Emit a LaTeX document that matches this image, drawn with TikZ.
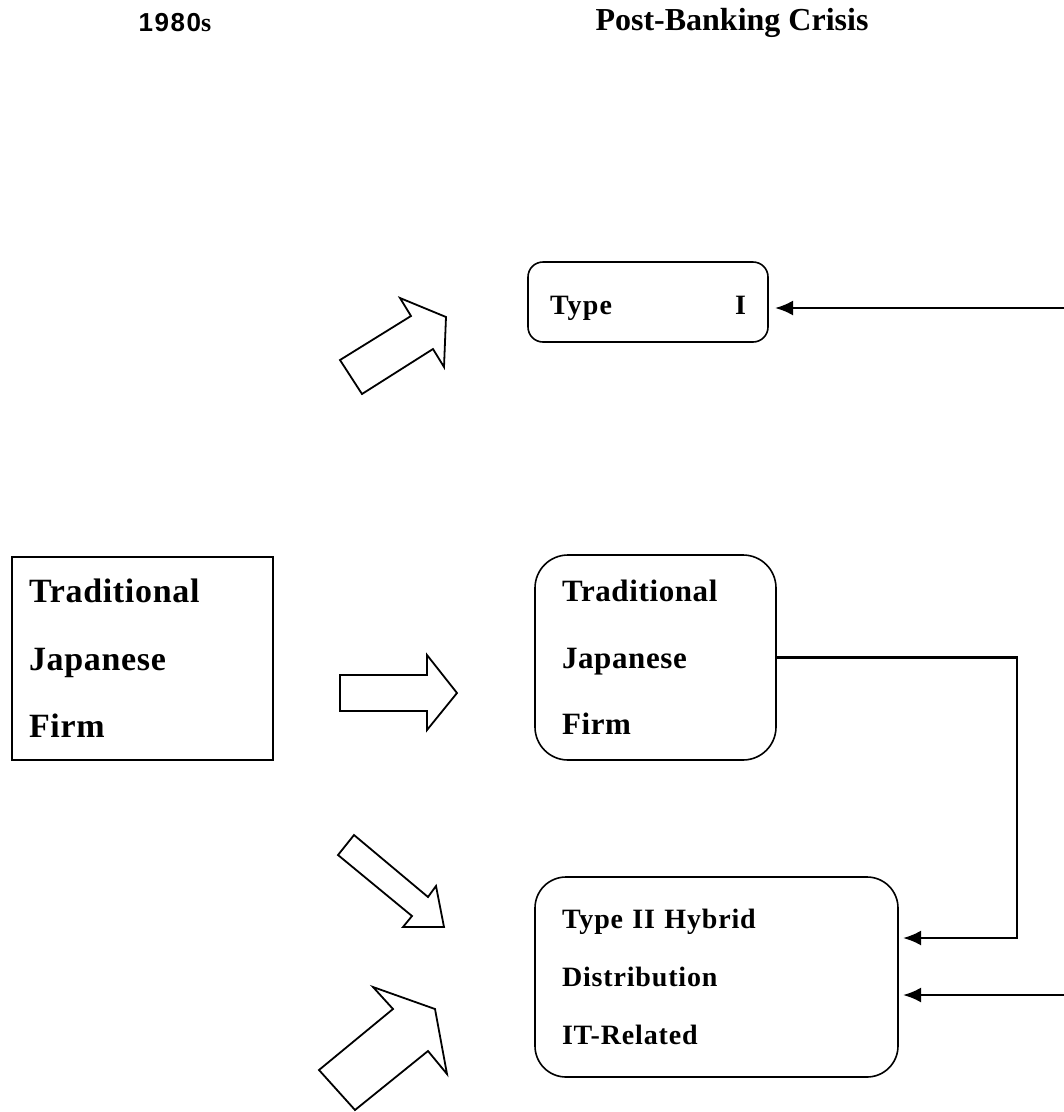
\documentclass[tikz,border=0pt]{standalone}
\usepackage{fontspec}
\setmainfont{Liberation Serif}
\setsansfont{Liberation Sans}
\newfontfamily\boxfont[LetterSpace=2]{Liberation Serif}
\newfontfamily\hybridfont[LetterSpace=3]{Liberation Serif}
\newfontfamily\typefont[LetterSpace=4]{Liberation Serif}
\newfontfamily\headsans[LetterSpace=6]{Liberation Sans}
\newfontfamily\headserif[LetterSpace=6]{Liberation Serif}
\usetikzlibrary{arrows.meta}

\begin{document}
\begin{tikzpicture}[x=1pt,y=-1pt,inner sep=0pt,outer sep=0pt,
>={Latex[length=18pt,width=15pt]},
firmblock/.style={draw,rectangle,line width=2pt,align=left,inner xsep=17pt},
roundblock/.style={draw,rectangle,line width=1.6pt,align=left,inner xsep=27pt},
blockarrow/.style={draw,line width=1.8pt,fill=white,line join=miter},
link/.style={line width=2.6pt}]

\useasboundingbox (0,0) rectangle (1064,1112);

%%% Headings %%%%%
\draw (175,23) node[font=\fontsize{26}{28}\selectfont\bfseries] (era80) {{\headsans 1980}{\headserif s}};
\draw (732,23) node[font=\fontsize{32}{34}\selectfont\bfseries] (postcrisis) {Post-Banking Crisis};

%%% 1980s firm %%%%%
\draw (142.5,658.5) node[firmblock,minimum width=261pt,minimum height=203pt,text width=227pt,
	font=\boxfont\fontsize{34}{67.5}\selectfont\bfseries] (oldfirm) {Traditional\\Japanese\\Firm};

%%% Post-crisis types %%%%%
\draw (648,302) node[roundblock,rounded corners=15pt,minimum width=240pt,minimum height=80pt,
	inner xsep=22pt,text width=196pt,text height=24pt,text depth=0pt,
	font=\typefont\fontsize{28}{30}\selectfont\bfseries] (typeI) {Type\hfill I};
\draw (655.5,657.5) node[roundblock,rounded corners=33pt,minimum width=241pt,minimum height=205pt,text width=187pt,
	font=\boxfont\fontsize{31}{66.5}\selectfont\bfseries] (newfirm) {Traditional\\Japanese\\Firm};
\draw (716.5,977) node[roundblock,rounded corners=31pt,minimum width=363pt,minimum height=200pt,text width=309pt,
	font=\hybridfont\fontsize{28}{58}\selectfont\bfseries] (hybrid) {Type II Hybrid\\Distribution\\IT-Related};

%%% Block arrows
	\draw[blockarrow] (362,394) -- (340,360) -- (411,316) -- (400,298) -- (446,317) -- (444,367) -- (433,349) -- cycle;
	\draw[blockarrow] (340,675) -- (427,675) -- (427,655) -- (457,693) -- (427,730) -- (427,711) -- (340,711) -- cycle;
	\draw[blockarrow] (338,855) -- (354,835) -- (428,897) -- (436,886) -- (444,927) -- (403,927) -- (412,916) -- cycle;
	\draw[blockarrow] (319,1070) -- (393,1009) -- (373,987) -- (435,1009) -- (447,1074) -- (428,1051) -- (355,1110) -- cycle;

%%% Connections from the right
	%%% Free ends at the right edge and the bend
	\coordinate (typein) at (1064,308);
	\coordinate (bend) at (1017,938);
	\coordinate (distin) at (1064,995);
\draw[link,->,shorten >=7pt] (typein) -- (typein -| typeI.east);
\draw[link,->,shorten >=5pt,line join=miter] (newfirm.east) -| (bend) -- (bend -| hybrid.east);
\draw[link,->,shorten >=5pt] (distin) -- (distin -| hybrid.east);

\end{tikzpicture}
\end{document}
